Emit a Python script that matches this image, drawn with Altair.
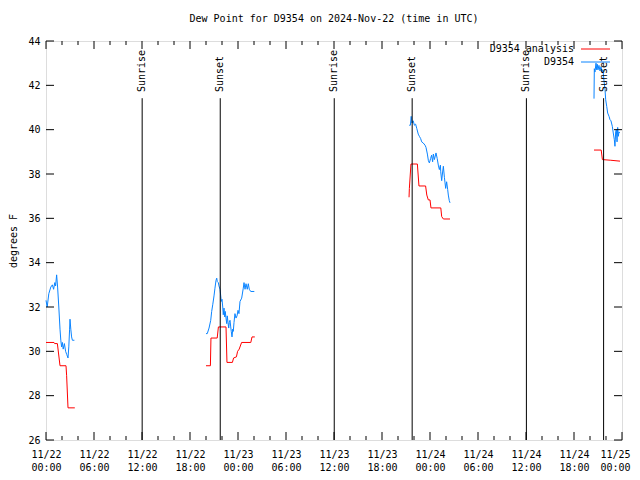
import pandas as pd
import altair as alt

TITLE = "Dew Point for D9354 on 2024-Nov-22 (time in UTC)"
BASE = pd.Timestamp("2024-11-22T00:00:00", tz="UTC")

# ---- data: hours since 2024-11-22 00:00 UTC, dew point (F) ----
obs_seg1_h = [0.0, 0.15, 0.35, 0.6, 0.8, 0.95, 1.1, 1.2, 1.33, 1.45, 1.6, 1.75, 1.85, 1.95, 2.05,
              2.15, 2.3, 2.45, 2.6, 2.75, 2.85, 2.95, 3.0, 3.1, 3.2, 3.3, 3.55]
obs_seg1_v = [32.3, 32.0, 32.6, 32.9, 33.0, 32.8, 33.1, 32.95, 33.45, 32.9, 32.0, 31.0, 30.5, 30.2, 30.4,
              30.1, 30.35, 30.0, 29.85, 29.7, 30.2, 31.0, 31.45, 31.0, 30.65, 30.5, 30.5]

obs_seg2_h = [20.0, 20.16, 20.38, 20.59, 20.71, 20.84, 21.0, 21.12, 21.25, 21.34, 21.41, 21.54, 21.62,
              21.75, 21.84, 21.91, 22.0, 22.09, 22.16, 22.25, 22.34, 22.41, 22.5, 22.59, 22.66, 22.75,
              22.84, 22.91, 23.0, 23.09, 23.16, 23.25, 23.34, 23.41, 23.5, 23.62, 23.75, 23.88, 24.0,
              24.12, 24.25, 24.46, 24.66, 24.75, 24.88, 25.0, 25.16, 25.29, 25.41, 25.59, 26.04]
obs_seg2_v = [30.8, 30.8, 31.05, 31.4, 31.8, 32.1, 32.5, 32.85, 33.2, 33.3, 33.15, 33.1, 32.95,
              32.8, 32.5, 32.25, 32.35, 32.0, 31.65, 31.95, 31.55, 31.8, 31.5, 31.25, 31.6, 31.3,
              31.05, 31.3, 31.4, 31.1, 30.9, 30.65, 31.0, 30.9, 31.3, 31.7, 31.5, 31.6, 31.85,
              31.7, 32.25, 32.4, 32.85, 33.1, 32.8, 33.05, 32.8, 33.05, 32.8, 32.7, 32.7]

obs_seg3_h = [45.4, 45.55, 45.65, 45.75, 45.9, 46.05, 46.2, 46.35, 46.53, 46.67, 46.83, 46.96, 47.15,
              47.38, 47.5, 47.67, 47.8, 47.92, 48.08, 48.2, 48.33, 48.42, 48.55, 48.75, 48.9, 49.04,
              49.17, 49.3, 49.34, 49.46, 49.55, 49.67, 49.8, 49.88, 49.96, 50.08, 50.21, 50.29, 50.41, 50.5]
obs_seg3_v = [40.2, 40.2, 40.6, 40.3, 40.4, 40.2, 40.25, 40.05, 39.8, 39.7, 39.6, 39.45, 39.4,
              39.3, 39.2, 38.9, 38.6, 38.5, 38.7, 38.85, 38.55, 38.9, 38.65, 38.95, 38.7, 38.4,
              38.2, 38.4, 38.1, 37.7, 38.0, 38.35, 37.85, 37.6, 37.35, 37.65, 37.3, 37.05, 36.8, 36.7]

obs_seg4_h = [68.5, 68.54, 68.62, 68.75, 68.84, 68.91, 69.0, 69.12, 69.25, 69.38, 69.5, 69.62, 69.75,
              69.88, 69.96, 70.09, 70.21, 70.38, 70.5, 70.62, 70.79, 70.91, 71.04, 71.12, 71.21,
              71.29, 71.38, 71.46, 71.54, 71.62, 71.71]
obs_seg4_v = [41.4, 42.75, 42.6, 43.0, 42.7, 42.95, 42.7, 42.9, 42.65, 42.85, 42.6, 42.7, 42.2,
              41.8, 41.35, 41.05, 40.75, 40.6, 40.45, 40.4, 40.15, 39.85, 39.55, 39.25, 39.9,
              40.0, 39.45, 40.1, 39.7, 39.9, 39.85]

ana_seg1_h = [0.0, 1.0, 1.08, 1.42, 1.75, 2.5, 2.58, 2.75, 3.6]
ana_seg1_v = [30.4, 30.4, 30.35, 30.35, 29.35, 29.35, 28.9, 27.45, 27.45]

ana_seg2_h = [20.0, 20.55, 20.62, 21.4, 21.55, 22.5, 22.62, 23.3, 23.45, 23.8, 23.95, 24.15, 24.45,
              25.6, 25.75, 26.1]
ana_seg2_v = [29.35, 29.35, 30.6, 30.6, 31.1, 31.1, 29.5, 29.5, 29.7, 29.75, 30.0, 30.1, 30.4,
              30.4, 30.65, 30.65]

ana_seg3_h = [45.38, 45.42, 45.62, 46.42, 46.62, 47.45, 47.6, 47.79, 48.0, 48.12, 49.35, 49.46, 49.67, 50.5]
ana_seg3_v = [36.95, 37.35, 38.45, 38.45, 37.46, 37.46, 37.05, 36.83, 36.83, 36.47, 36.47, 36.08, 35.97, 35.97]

ana_seg4_h = [68.5, 69.4, 69.55, 70.6, 71.75]
ana_seg4_v = [39.08, 39.08, 38.65, 38.62, 38.58]

event_labels = ["Sunrise", "Sunset", "Sunrise", "Sunset", "Sunrise", "Sunset"]
event_hours = [12.02, 21.78, 36.03, 45.77, 60.05, 69.7]
event_top = 41.42

tick_major_hours = list(range(0, 73, 6))
tick_minor_hours = [h for h in range(0, 73, 2) if h % 6 != 0]
y_ticks = list(range(26, 45, 2))

SERIES = ["D9354 analysis", "D9354"]
COLORS = ["#ff0000", "#0a84ff"]


def iso(h):
    return (BASE + pd.to_timedelta(h, unit="h")).strftime("%Y-%m-%dT%H:%M:%SZ")


rows = []
for name, segs in [
    (SERIES[0], [(ana_seg1_h, ana_seg1_v), (ana_seg2_h, ana_seg2_v), (ana_seg3_h, ana_seg3_v), (ana_seg4_h, ana_seg4_v)]),
    (SERIES[1], [(obs_seg1_h, obs_seg1_v), (obs_seg2_h, obs_seg2_v), (obs_seg3_h, obs_seg3_v), (obs_seg4_h, obs_seg4_v)]),
]:
    for i, (hs, vs) in enumerate(segs):
        for h, v in zip(hs, vs):
            rows.append({"series": name, "seg": f"{name}-{i}", "t": iso(h), "v": v})
df = pd.DataFrame(rows)

ev = pd.DataFrame({"t": [iso(h) for h in event_hours], "label": event_labels,
                   "lo": [26] * len(event_hours), "v": [event_top] * len(event_hours)})
maj = pd.DataFrame({"t": [iso(h) for h in tick_major_hours]})
mnr = pd.DataFrame({"t": [iso(h) for h in tick_minor_hours]})
yt = pd.DataFrame({"v": y_ticks})

W, H = 576, 399
FONT = "DejaVu Sans Mono"

xscale = alt.Scale(type="utc", domain=[alt.DateTime(year=2024, month=11, date=22, hours=0, utc=True),
                                       alt.DateTime(year=2024, month=11, date=25, hours=0, utc=True)])
yscale = alt.Scale(domain=[26, 44], nice=False, zero=False)

xaxis = alt.Axis(
    values=[alt.DateTime(year=2024, month=11, date=22 + h // 24, hours=h % 24, utc=True) for h in tick_major_hours],
    labelExpr="[utcFormat(datum.value, '%m/%d'), utcFormat(datum.value, '%H:%M')]",
    ticks=False, domain=False, grid=False, labelPadding=9, labelLineHeight=13,
    labelFont=FONT, labelFontSize=10, labelColor="black", title=None, labelFlush=False,
    labelOverlap=False,
    labelOffset={"condition": {"test": "datum.index == 1", "value": -7}, "value": 0},
)
yaxis = alt.Axis(values=y_ticks, ticks=False, domain=False, grid=False, labelPadding=6,
                 labelFont=FONT, labelFontSize=10, labelColor="black", title="degrees F",
                 titleFont=FONT, titleFontSize=10, titleFontWeight="normal", titleColor="black",
                 titlePadding=9, labelOverlap=False)

X = alt.X("t:T", scale=xscale, axis=xaxis)
Y = alt.Y("v:Q", scale=yscale, axis=yaxis)

lines = alt.Chart(df).mark_line(strokeWidth=1).encode(
    x=X, y=Y,
    color=alt.Color("series:N", scale=alt.Scale(domain=SERIES, range=COLORS), legend=None),
    detail="seg:N",
)

ev_rules = alt.Chart(ev).mark_rule(color="black", strokeWidth=1).encode(
    x=X, y=Y, y2="lo:Q")
ev_text = alt.Chart(ev).mark_text(angle=270, align="left", baseline="middle", font=FONT,
                                  fontSize=10, color="black").encode(
    x=X, y=alt.value(51), text="label:N")

maj_b = alt.Chart(maj).mark_rule(color="black").encode(x=X, y=alt.value(H), y2=alt.value(H - 8))
maj_t = alt.Chart(maj).mark_rule(color="black").encode(x=X, y=alt.value(0), y2=alt.value(8))
mnr_b = alt.Chart(mnr).mark_rule(color="black").encode(x=X, y=alt.value(H), y2=alt.value(H - 4))
mnr_t = alt.Chart(mnr).mark_rule(color="black").encode(x=X, y=alt.value(0), y2=alt.value(4))
yt_l = alt.Chart(yt).mark_rule(color="black").encode(y=Y, x=alt.value(0), x2=alt.value(8))
yt_r = alt.Chart(yt).mark_rule(color="black").encode(y=Y, x=alt.value(W), x2=alt.value(W - 8))

legend_layers = []
for name, color, ypix in zip(SERIES, COLORS, [8, 21]):
    one = pd.DataFrame({"series": [name]})
    legend_layers.append(
        alt.Chart(one).mark_text(align="right", baseline="middle", font=FONT, fontSize=10,
                                 color="black").encode(text="series:N", x=alt.value(528), y=alt.value(ypix))
    )
    legend_layers.append(
        alt.Chart(one).mark_rule(strokeWidth=1, color=color).encode(
            x=alt.value(535), x2=alt.value(564), y=alt.value(ypix))
    )

chart = alt.layer(
    lines, maj_b, maj_t, mnr_b, mnr_t, yt_l, yt_r,
    ev_rules, ev_text, *legend_layers,
).properties(
    width=W, height=H,
    title=alt.TitleParams(TITLE, font=FONT, fontSize=10, fontWeight="normal", color="black", offset=12),
    autosize=alt.AutoSizeParams(type="none"),
    padding={"left": 38, "top": 33, "right": 10, "bottom": 32},
).configure_view(stroke="black", strokeWidth=1).configure_axis(grid=False).configure(background="white")

chart.save("out.html", embed_options={"renderer": "svg", "actions": False})
